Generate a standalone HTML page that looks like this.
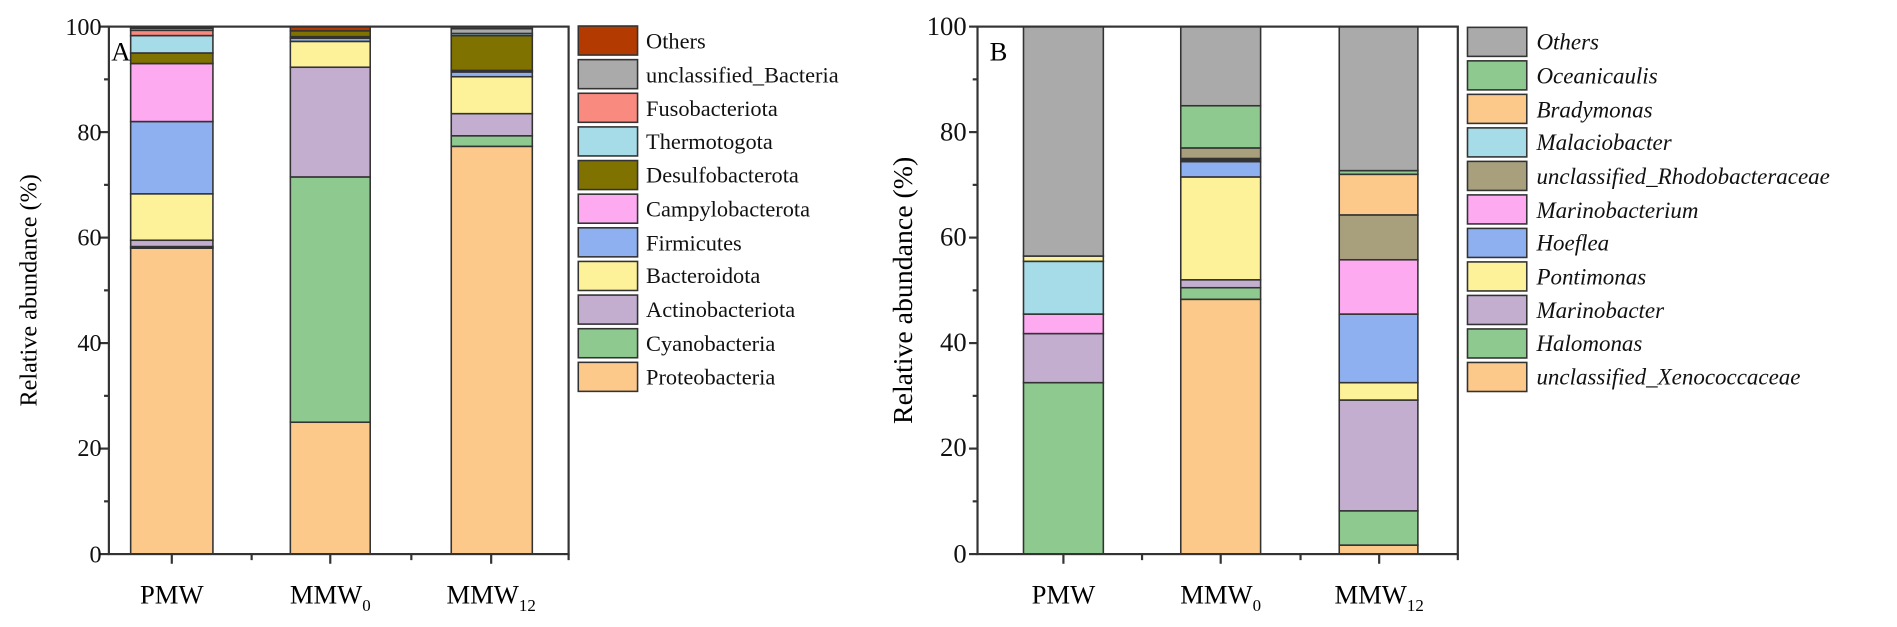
<!DOCTYPE html>
<html><head><meta charset="utf-8"><style>
html,body{margin:0;padding:0;background:#fff;}
svg{display:block;font-family:"Liberation Serif",serif;}
</style></head><body>
<svg id="s" width="1897" height="627" viewBox="0 0 1897 627" xmlns="http://www.w3.org/2000/svg">
<rect width="1897" height="627" fill="#fff"/>
<g transform="scale(1.2098)">
<g id="bars"></g>
<g stroke="#333" stroke-width="1.8" fill="none">
<rect x="90" y="22" width="380" height="436"/>
<rect x="808" y="22" width="397" height="436"/>
</g>
<g stroke="#333" stroke-width="1.8" id="ticks"></g>
<g font-size="20" fill="#111" text-anchor="end">
<text x="84" y="29">100</text><text x="84" y="116">80</text><text x="84" y="203">60</text><text x="84" y="290">40</text><text x="84" y="377">20</text><text x="84" y="465">0</text>
<text x="799" y="29" font-size="22">100</text><text x="799" y="116" font-size="22">80</text><text x="799" y="203" font-size="22">60</text><text x="799" y="290" font-size="22">40</text><text x="799" y="377" font-size="22">20</text><text x="799" y="465" font-size="22">0</text>
</g>
<text x="0" y="0" font-size="20" text-anchor="middle" transform="translate(30,240) rotate(-90)">Relative abundance (%)</text>
<text x="0" y="0" font-size="23" text-anchor="middle" transform="translate(754,240) rotate(-90)">Relative abundance (%)</text>
<text x="92" y="50" font-size="22">A</text>
<text x="818" y="50" font-size="22">B</text>
<g font-size="22" text-anchor="middle">
<text x="142" y="499">PMW</text>
<text x="273" y="499">MMW<tspan font-size="14" dy="6">0</tspan></text>
<text x="406" y="499">MMW<tspan font-size="14" dy="6">12</tspan></text>
<text x="879" y="499">PMW</text>
<text x="1009" y="499">MMW<tspan font-size="14" dy="6">0</tspan></text>
<text x="1140" y="499">MMW<tspan font-size="14" dy="6">12</tspan></text>
</g>
<g font-size="18.5" fill="#111">
<text x="534" y="40">Others</text>
<text x="534" y="68">unclassified_Bacteria</text>
<text x="534" y="96">Fusobacteriota</text>
<text x="534" y="123">Thermotogota</text>
<text x="534" y="151">Desulfobacterota</text>
<text x="534" y="179">Campylobacterota</text>
<text x="534" y="207">Firmicutes</text>
<text x="534" y="234">Bacteroidota</text>
<text x="534" y="262">Actinobacteriota</text>
<text x="534" y="290">Cyanobacteria</text>
<text x="534" y="318">Proteobacteria</text>
</g>
<g font-size="19" fill="#111" font-style="italic">
<text x="1270" y="41">Others</text>
<text x="1270" y="69">Oceanicaulis</text>
<text x="1270" y="97">Bradymonas</text>
<text x="1270" y="124">Malaciobacter</text>
<text x="1270" y="152">unclassified_Rhodobacteraceae</text>
<text x="1270" y="180">Marinobacterium</text>
<text x="1270" y="207">Hoeflea</text>
<text x="1270" y="235">Pontimonas</text>
<text x="1270" y="263">Marinobacter</text>
<text x="1270" y="290">Halomonas</text>
<text x="1270" y="318">unclassified_Xenococcaceae</text>
</g>
</g>
</svg>
<script>
var NS="http://www.w3.org/2000/svg",g=document.getElementById("bars"),t=document.getElementById("ticks");
function r(x,y,w,h,f){var e=document.createElementNS(NS,"rect");e.setAttribute("x",x);e.setAttribute("y",y);e.setAttribute("width",w);e.setAttribute("height",h);e.setAttribute("fill",f);e.setAttribute("stroke","#333");e.setAttribute("stroke-width","1.3");g.appendChild(e);}
function l(x1,y1,x2,y2){var e=document.createElementNS(NS,"line");e.setAttribute("x1",x1);e.setAttribute("y1",y1);e.setAttribute("x2",x2);e.setAttribute("y2",y2);t.appendChild(e);}
function Y(v){return 458-v*4.36;}
function bar(x,w,segs){segs.forEach(function(s){var h=(s[1]-s[0])*4.36;if(h>0.2)r(x,Y(s[1]),w,h,s[2]);});}
var OR="#fdc98a",GR="#8ec98f",PU="#c3aed0",YE="#fdf29a",BL="#8fb0f0",PK="#fdaaf0",OL="#7f7200",CY="#a6dbe8",SA="#f98a80",GY="#aaaaaa",DR="#b33a00",RH="#a8a07c";
bar(108,68,[[0,58,OR],[58,58.3,GR],[58.3,59.5,PU],[59.5,68.3,YE],[68.3,82,BL],[82,93,PK],[93,95,OL],[95,98.3,CY],[98.3,99.3,SA],[99.3,99.7,GY],[99.7,100,DR]]);
bar(240,66,[[0,25,OR],[25,71.5,GR],[71.5,92.3,PU],[92.3,97.2,YE],[97.2,97.8,BL],[97.8,98.1,CY],[98.1,99.2,OL],[99.2,100,DR]]);
bar(373,67,[[0,77.3,OR],[77.3,79.3,GR],[79.3,83.5,PU],[83.5,90.5,YE],[90.5,91.4,BL],[91.4,91.7,PK],[91.7,98.3,OL],[98.3,98.7,CY],[98.7,99.6,GY],[99.6,100,DR]]);
bar(846,66,[[0,32.5,GR],[32.5,41.8,PU],[41.8,45.5,PK],[45.5,55.5,CY],[55.5,56.5,YE],[56.5,100,GY]]);
bar(976,66,[[0,48.3,OR],[48.3,50.5,GR],[50.5,52,PU],[52,71.5,YE],[71.5,74.4,BL],[74.4,75,"#333"],[75,77,RH],[77,85,GR],[85,100,GY]]);
bar(1107,65,[[0,1.7,OR],[1.7,8.2,GR],[8.2,29.2,PU],[29.2,32.5,YE],[32.5,45.5,BL],[45.5,55.8,PK],[55.8,64.3,RH],[64.3,72,OR],[72,72.7,GR],[72.7,100,GY]]);
[DR,GY,SA,CY,OL,PK,BL,YE,PU,GR,OR].forEach(function(c,i){r(478,21.5+i*27.8,49,24,c);});
[GY,GR,OR,CY,RH,PK,BL,YE,PU,GR,OR].forEach(function(c,i){r(1213,22.6+i*27.7,49,24,c);});
[[90,470,[142,273,406],[208,340]],[808,1205,[879,1009,1140],[944,1075]]].forEach(function(p){
for(var v=0;v<=100;v+=10){var y=Y(v);l(p[0]-(v%20?4:7),y,p[0],y);}
p[2].forEach(function(x){l(x,458,x,466);});p[3].forEach(function(x){l(x,458,x,463);});l(p[1],458,p[1],463);
});
</script>
</body></html>
